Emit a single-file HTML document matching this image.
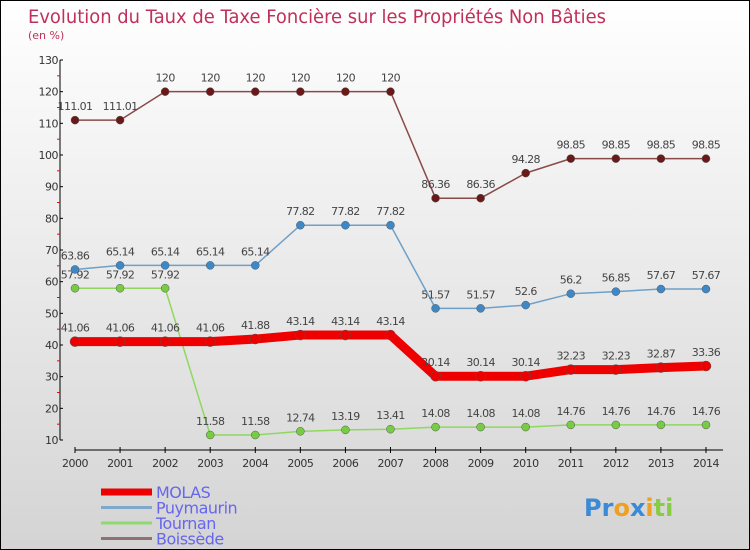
<!DOCTYPE html>
<html><head><meta charset="utf-8"><style>
body{margin:0}
#c{width:750px;height:550px;position:relative;box-sizing:border-box;border:1px solid #000;background:linear-gradient(#fff,#d4d4d4);font-family:"DejaVu Sans","Liberation Sans",sans-serif;overflow:hidden}
</style></head><body>
<div id="c">
<svg id="s" width="748" height="548"></svg>
</div>
<script>
const years=["2000","2001","2002","2003","2004","2005","2006","2007","2008","2009","2010","2011","2012","2013","2014"];
const molas=[41.06,41.06,41.06,41.06,41.88,43.14,43.14,43.14,30.14,30.14,30.14,32.23,32.23,32.87,33.36];
const puymaurin=[63.86,65.14,65.14,65.14,65.14,77.82,77.82,77.82,51.57,51.57,52.6,56.2,56.85,57.67,57.67];
const tournan=[57.92,57.92,57.92,11.58,11.58,12.74,13.19,13.41,14.08,14.08,14.08,14.76,14.76,14.76,14.76];
const boissede=[111.01,111.01,120,120,120,120,120,120,86.36,86.36,94.28,98.85,98.85,98.85,98.85];
const yTicks=[10,20,30,40,50,60,70,80,90,100,110,120,130];
const ox=-1,oy=-1;
const X=i=>75+i*45.07+ox, Y=v=>440-(v-10)*3.1667+oy;
const s=document.getElementById('s');const NS='http://www.w3.org/2000/svg';
function el(t,a,p){const e=document.createElementNS(NS,t);for(const k in a)e.setAttribute(k,a[k]);(p||s).appendChild(e);return e}
function tx(x,y,str,a){const e=el('text',Object.assign({x:x,y:y},a));e.textContent=str;return e}
let t=tx(27,22,"Evolution du Taux de Taxe Foncière sur les Propriétés Non Bâties",{fill:"#c0305a","font-size":"19",textLength:"578",lengthAdjust:"spacingAndGlyphs"});

t=tx(27,38,"(en %)",{fill:"#c0305a","font-size":"11"});

let a=el('line',{x1:60+ox,y1:Y(130),x2:60+ox,y2:Y(10),stroke:"#000","stroke-width":1});

a=el('line',{x1:X(0),y1:450+oy,x2:722,y2:450+oy,stroke:"#000","stroke-width":1});

yTicks.forEach((v,i)=>{
 el('line',{x1:60+ox,x2:63+ox,y1:Y(v),y2:Y(v),stroke:"#000"});
 if(i<yTicks.length-1)el('line',{x1:57+ox,x2:60+ox,y1:Y(v+5),y2:Y(v+5),stroke:"#f00"});
 const l=tx(58+ox,Y(v)+4,String(v),{fill:"#333","font-size":"11","text-anchor":"end","letter-spacing":"-0.5"});
 
});
years.forEach((y,i)=>{
 el('line',{x1:X(i),x2:X(i),y1:447+oy,y2:453+oy,stroke:"#000"});
 const l=tx(X(i),467+oy,y,{fill:"#333","font-size":"11","text-anchor":"middle","letter-spacing":"-0.5"});
 
});
function series(d,col,dot,w,name,r){
 const g=el('g',{});
 el('polyline',{points:d.map((v,i)=>X(i)+','+Y(v)).join(' '),fill:"none",stroke:col,"stroke-width":w,"stroke-linejoin":"round"},g);
 d.forEach((v,i)=>{
  const c=el('circle',{cx:X(i),cy:Y(v),r:r,fill:dot,stroke:"#555","stroke-width":0.5},g);
  
  const l=tx(X(i),Y(v)-10,String(v),{fill:"#444","font-size":"11","text-anchor":"middle","letter-spacing":"-0.6"},g);
  
 });
}
series(tournan,"#8fd860","#77cc44",1.5,"tournan",4);
series(puymaurin,"#6fa0c8","#3f88c8",1.5,"puymaurin",4);
series(boissede,"#8a4a4a","#6a1818",1.5,"boissede",4);
series(molas,"#ee0000","#ee0000",9,"molas",5);
const leg=[["MOLAS","#ee0000",7],["Puymaurin","#80a8c8",3],["Tournan","#90d870",3],["Boissède","#907070",3]];
leg.forEach((l,i)=>{
 const g=el('g',{});
 const yy=492+i*15.5+oy;
 el('line',{x1:100,x2:151,y1:yy,y2:yy,stroke:l[1],"stroke-width":l[2]},g);
 tx(155,yy+6,l[0],{fill:"#6666ee","font-size":"16","letter-spacing":"-0.5"},g);
});
const p=tx(583,515,"",{"font-size":"24","font-weight":"bold"});

[["Pr","#3a8ad8"],["o","#f0a020"],["x","#3a8ad8"],["i","#f0a020"],["ti","#88cc44"]].forEach(q=>{const ts=el('tspan',{fill:q[1]},p);ts.textContent=q[0];});
</script>
</body></html>
